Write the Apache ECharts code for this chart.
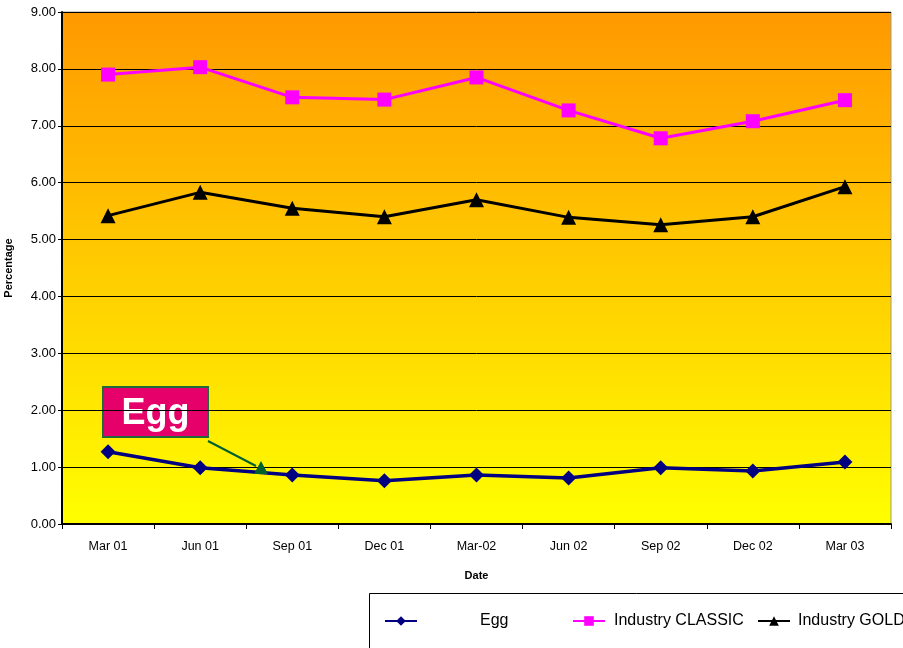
<!DOCTYPE html>
<html>
<head>
<meta charset="utf-8">
<script src="https://cdn.jsdelivr.net/npm/echarts@6/dist/echarts.min.js"></script>
<style>
  html, body { margin: 0; padding: 0; background: #fff; }
  #chart { width: 903px; height: 648px; }
</style>
</head>
<body>
<div id="chart"></div>
<script>
// Quarterly dates along the horizontal axis
const dates = ['Mar 01', 'Jun 01', 'Sep 01', 'Dec 01', 'Mar-02', 'Jun 02', 'Sep 02', 'Dec 02', 'Mar 03'];

// Percentage values per series
const eggValues = [1.27, 0.99, 0.86, 0.76, 0.86, 0.81, 0.99, 0.93, 1.09];
const classicValues = [7.90, 8.03, 7.50, 7.46, 7.85, 7.27, 6.78, 7.08, 7.45];
const goldValues = [5.42, 5.83, 5.55, 5.40, 5.70, 5.39, 5.26, 5.40, 5.93];

const seriesNames = ['Egg', 'Industry CLASSIC', 'Industry GOLD'];

const chart = echarts.init(document.getElementById('chart'));
const font = 'Arial, "Liberation Sans", sans-serif';

// One legend entry per column of the key box
const legendLefts = [384, 572, 757];
const legendPads = [58, 4, 3];
const legends = seriesNames.map((name, i) => ({
  left: legendLefts[i], top: 613,
  padding: 0,
  itemWidth: 32, itemHeight: 12,
  data: [name],
  formatter: n => '{pad|}{t|' + n + '}',
  textStyle: {
    fontFamily: font, fontSize: 16, color: '#000',
    rich: {
      pad: { width: legendPads[i] },
      t: { fontFamily: font, fontSize: 16, color: '#000' }
    }
  }
}));

chart.setOption({
  animation: false,
  grid: {
    left: 62, right: 12, top: 12, bottom: 124,
    outerBoundsMode: 'none',
    containLabel: false,
    show: true,
    borderColor: '#a09a8a',
    borderWidth: 1,
    backgroundColor: new echarts.graphic.LinearGradient(0, 0, 0, 1, [
      { offset: 0, color: '#ff9900' },
      { offset: 1, color: '#ffff00' }
    ])
  },
  xAxis: {
    type: 'category',
    data: dates,
    boundaryGap: true,
    name: 'Date',
    nameLocation: 'middle',
    nameGap: 46,
    nameTextStyle: { fontFamily: font, fontSize: 11, fontWeight: 'bold', color: '#000' },
    axisLine: { lineStyle: { color: '#000', width: 2 } },
    axisTick: { show: true, alignWithLabel: false, length: 5, lineStyle: { color: '#000' } },
    axisLabel: { fontFamily: font, fontSize: 12.5, color: '#000', margin: 16 }
  },
  yAxis: {
    type: 'value',
    min: 0, max: 9, interval: 1,
    name: 'Percentage',
    nameLocation: 'middle',
    nameGap: 48,
    nameTextStyle: { fontFamily: font, fontSize: 11, fontWeight: 'bold', color: '#000' },
    axisLine: { show: true, lineStyle: { color: '#000', width: 2 } },
    axisTick: { show: true, length: 4, lineStyle: { color: '#000' } },
    axisLabel: { fontFamily: font, fontSize: 13, color: '#000', margin: 6, formatter: v => v.toFixed(2) },
    splitLine: { show: true, lineStyle: { color: '#000', width: 1 } }
  },
  legend: legends,
  series: [
    {
      name: seriesNames[0], type: 'line', data: eggValues,
      symbol: 'diamond', symbolSize: 15,
      lineStyle: { color: '#000080', width: 3.5 },
      itemStyle: { color: '#000080' }, z: 4
    },
    {
      name: seriesNames[1], type: 'line', data: classicValues,
      symbol: 'rect', symbolSize: 14,
      lineStyle: { color: '#ff00ff', width: 3 },
      itemStyle: { color: '#ff00ff' }, z: 3
    },
    {
      name: seriesNames[2], type: 'line', data: goldValues,
      symbol: 'triangle', symbolSize: 15,
      lineStyle: { color: '#000', width: 3 },
      itemStyle: { color: '#000' }, z: 3
    }
  ],
  graphic: [
    // Frame around the key
    {
      type: 'rect', z: -1, silent: true,
      shape: { x: 369.5, y: 593.5, width: 560, height: 80 },
      style: { fill: '#fff', stroke: '#000', lineWidth: 1 }
    },
    // Callout box with a pointer toward the Egg line
    {
      type: 'line', z: 10,
      shape: { x1: 208, y1: 441, x2: 256, y2: 466 },
      style: { stroke: '#006030', lineWidth: 2 }
    },
    {
      type: 'polygon', z: 10,
      shape: { points: [[261, 461], [254, 474], [268, 474]] },
      style: { fill: '#006030' }
    },
    {
      type: 'group', left: 102, top: 386, z: 10,
      children: [
        {
          type: 'rect',
          shape: { x: 0, y: 0, width: 105, height: 50 },
          style: { fill: '#e6006a', stroke: '#1f6a3a', lineWidth: 2 }
        },
        {
          type: 'text',
          style: {
            x: 52.5, y: 27, text: 'Egg', fill: '#fff',
            font: 'bold 36px Arial, "Liberation Sans", sans-serif',
            textAlign: 'center', textVerticalAlign: 'middle'
          }
        }
      ]
    }
  ]
});
</script>
</body>
</html>
